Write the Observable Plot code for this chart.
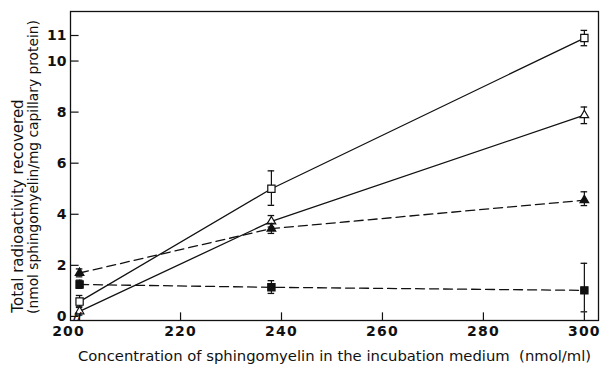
<!DOCTYPE html>
<html>
<head>
<meta charset="utf-8">
<script src="https://cdn.jsdelivr.net/npm/d3@7"></script>
<script src="https://cdn.jsdelivr.net/npm/@observablehq/plot@0.6"></script>
<style>
  html, body { margin: 0; padding: 0; background: #fff; }
  .tick-label text { letter-spacing: 1.2px; }
</style>
</head>
<body>
<div id="chart"></div>
<script>
// Concentration of sphingomyelin (nmol/ml)
const conc = [200, 238, 300];

// Open squares (solid line)
const openSquare   = [0.58, 5.0, 10.9];
const openSquareLo = [0.35, 4.35, 10.6];
const openSquareHi = [0.82, 5.7, 11.2];

// Open triangles (solid line)
const openTriangle   = [0.2, 3.72, 7.88];
const openTriangleLo = [0.05, 3.5, 7.55];
const openTriangleHi = [0.4, 3.95, 8.2];

// Filled triangles (dashed line)
const filledTriangle   = [1.7, 3.44, 4.55];
const filledTriangleLo = [1.55, 3.25, 4.34];
const filledTriangleHi = [1.86, 3.64, 4.88];

// Filled squares (dashed line)
const filledSquare   = [1.25, 1.14, 1.02];
const filledSquareLo = [1.1, 0.9, 0.18];
const filledSquareHi = [1.42, 1.4, 2.08];

const xTicks = [200, 220, 240, 260, 280, 300];
const yTicks = [0, 2, 4, 6, 8, 10, 11];

const xLabel = "Concentration of sphingomyelin in the incubation medium  (nmol/ml)";
const yLabel1 = "Total radioactivity recovered";
const yLabel2 = "(nmol sphingomyelin/mg capillary protein)";

const seriesDefs = [
  {name: "openSquare", y: openSquare, lo: openSquareLo, hi: openSquareHi, symbol: "square", fill: "white", dash: null},
  {name: "openTriangle", y: openTriangle, lo: openTriangleLo, hi: openTriangleHi, symbol: "triangle", fill: "white", dash: null},
  {name: "filledTriangle", y: filledTriangle, lo: filledTriangleLo, hi: filledTriangleHi, symbol: "triangle", fill: "#111", dash: "9,5"},
  {name: "filledSquare", y: filledSquare, lo: filledSquareLo, hi: filledSquareHi, symbol: "square", fill: "#111", dash: "9,5"}
];

const rows = [];
for (const s of seriesDefs) {
  conc.forEach((c, i) => rows.push({series: s.name, x: c, y: s.y[i], lo: s.lo[i], hi: s.hi[i]}));
}

const xDomain = [198.2, 302.8];
const yDomain = [-0.16, 11.94];
const ink = "#111";
const capHalf = 0.65;

const marks = [];
// ticks pointing inward
marks.push(Plot.ruleX(xTicks, {x: d => d, y1: yDomain[0], y2: yDomain[0] + 0.3, stroke: ink, strokeWidth: 1.2}));
marks.push(Plot.ruleY(yTicks, {y: d => d, x1: xDomain[0], x2: xDomain[0] + 1.7, stroke: ink, strokeWidth: 1.2}));

for (const s of seriesDefs) {
  const data = rows.filter(r => r.series === s.name);
  marks.push(Plot.line(data, {x: "x", y: "y", stroke: ink, strokeWidth: 1.3, strokeDasharray: s.dash || undefined}));
}
for (const s of seriesDefs) {
  const data = rows.filter(r => r.series === s.name);
  marks.push(Plot.ruleX(data, {x: "x", y1: "lo", y2: "hi", stroke: ink, strokeWidth: 1.2}));
  marks.push(Plot.ruleY(data, {y: "hi", x1: d => d.x - capHalf, x2: d => d.x + capHalf, stroke: ink, strokeWidth: 1.3}));
  marks.push(Plot.ruleY(data, {y: "lo", x1: d => d.x - capHalf, x2: d => d.x + capHalf, stroke: ink, strokeWidth: 1.3}));
  marks.push(Plot.dot(data, {x: "x", y: "y", symbol: s.symbol, r: s.symbol === "square" ? 4.1 : 3.2, fill: s.fill, stroke: ink, strokeWidth: 1.2}));
}

marks.push(Plot.frame({stroke: ink, strokeWidth: 1.3}));

marks.push(Plot.axisX(xTicks.filter(t => t !== 200), {tickSize: 0, tickPadding: 6, fontSize: 14, fontWeight: "bold", fontFamily: "DejaVu Sans", label: null, className: "tick-label"}));
marks.push(Plot.axisX([200], {tickSize: 0, tickPadding: 6, dx: -11, fontSize: 14, fontWeight: "bold", fontFamily: "DejaVu Sans", label: null, className: "tick-label"}));
marks.push(Plot.axisY(yTicks, {tickSize: 0, tickPadding: 4, fontSize: 14, fontWeight: "bold", fontFamily: "DejaVu Sans", label: null}));

// axis break mark
marks.push(Plot.text(["//"], {frameAnchor: "bottom-left", dx: 7, dy: -1, fontSize: 10, fontWeight: "bold", fill: ink, textAnchor: "middle"}));

// axis titles
marks.push(Plot.text([xLabel], {frameAnchor: "bottom", textAnchor: "middle", dx: 0, dy: 40, fontSize: 14.8, fontFamily: "DejaVu Sans", fill: ink}));
marks.push(Plot.text([yLabel1], {frameAnchor: "left", textAnchor: "middle", rotate: -90, dx: -52, dy: 40, fontSize: 15, fontFamily: "DejaVu Sans", fill: ink}));
marks.push(Plot.text([yLabel2], {frameAnchor: "left", textAnchor: "middle", rotate: -90, dx: -37, dy: 1, fontSize: 13.8, fontFamily: "DejaVu Sans", fill: ink}));

const chart = Plot.plot({
  width: 600,
  height: 367,
  marginLeft: 70,
  marginRight: 2,
  marginTop: 11,
  marginBottom: 47,
  style: {background: "white", color: ink, overflow: "visible"},
  x: {domain: xDomain, axis: null},
  y: {domain: yDomain, axis: null},
  marks
});
document.getElementById("chart").appendChild(chart);
</script>
</body>
</html>
